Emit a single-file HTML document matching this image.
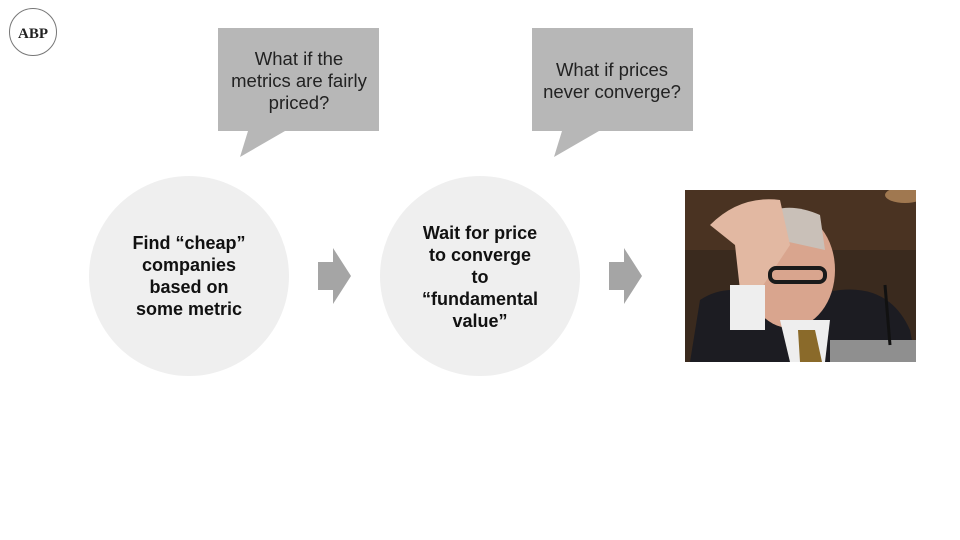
<!DOCTYPE html>
<html><head><style>
body{margin:0;background:#fff;}
svg{display:block;}
</style></head><body>
<svg width="960" height="540" xmlns="http://www.w3.org/2000/svg" font-family="Liberation Sans, sans-serif">
<defs><clipPath id="ph"><rect x="685" y="190" width="231" height="172"/></clipPath></defs>
<rect width="960" height="540" fill="#fff"/>
<circle cx="33" cy="32" r="23.5" fill="#fff" stroke="#777" stroke-width="1"/>
<text x="33" y="38" text-anchor="middle" font-family="Liberation Serif, serif" font-weight="bold" font-size="15" fill="#222">ABP</text>

<polygon points="218,28 379,28 379,131 285,131 240,157 248,131 218,131" fill="#b7b7b7"/>
<text text-anchor="middle" font-size="18.5" fill="#222"><tspan x="299" y="65">What if the</tspan><tspan x="299" y="87">metrics are fairly</tspan><tspan x="299" y="109">priced?</tspan></text>

<polygon points="532,28 693,28 693,131 599,131 554,157 562,131 532,131" fill="#b7b7b7"/>
<text text-anchor="middle" font-size="18.5" fill="#222"><tspan x="612" y="76">What if prices</tspan><tspan x="612" y="98">never converge?</tspan></text>

<circle cx="189" cy="276" r="100" fill="#efefef"/>
<text text-anchor="middle" font-size="18" font-weight="bold" fill="#111"><tspan x="189" y="249">Find “cheap”</tspan><tspan x="189" y="271">companies</tspan><tspan x="189" y="293">based on</tspan><tspan x="189" y="315">some metric</tspan></text>

<circle cx="480" cy="276" r="100" fill="#efefef"/>
<text text-anchor="middle" font-size="18" font-weight="bold" fill="#111"><tspan x="480" y="239">Wait for price</tspan><tspan x="480" y="261">to converge</tspan><tspan x="480" y="283">to</tspan><tspan x="480" y="305">“fundamental</tspan><tspan x="480" y="327">value”</tspan></text>

<polygon points="318,262 333,262 333,248 351,276 333,304 333,290 318,290" fill="#a5a5a5"/>
<polygon points="609,262 624,262 624,248 642,276 624,304 624,290 609,290" fill="#a5a5a5"/>

<g clip-path="url(#ph)">
<rect x="685" y="190" width="231" height="172" fill="#3a2a1e"/>
<rect x="685" y="190" width="231" height="60" fill="#4a3322"/>
<ellipse cx="905" cy="195" rx="20" ry="8" fill="#a07850"/>
<path d="M690,362 L700,300 Q730,280 770,300 L840,290 Q890,285 910,330 L916,362 Z" fill="#1c1c22"/>
<ellipse cx="790" cy="270" rx="45" ry="58" fill="#d9a58e"/>
<path d="M745,230 Q775,195 820,215 L825,250 L780,240 Z" fill="#c9c0b8"/>
<path d="M710,225 Q740,195 780,200 L790,245 L760,290 L740,290 L735,245 Z" fill="#e2b8a2"/>
<rect x="730" y="285" width="35" height="45" fill="#eeeeee"/>
<path d="M780,320 L830,320 L825,362 L790,362 Z" fill="#eeeeee"/>
<path d="M798,330 L815,330 L822,362 L800,362 Z" fill="#8a6a2a"/>
<rect x="770" y="268" width="55" height="14" rx="6" fill="none" stroke="#1a1a1a" stroke-width="4"/>
<rect x="830" y="340" width="86" height="22" fill="#8f8f8f"/>
<line x1="885" y1="285" x2="890" y2="345" stroke="#111" stroke-width="3"/>
</g>
</svg>
</body></html>
